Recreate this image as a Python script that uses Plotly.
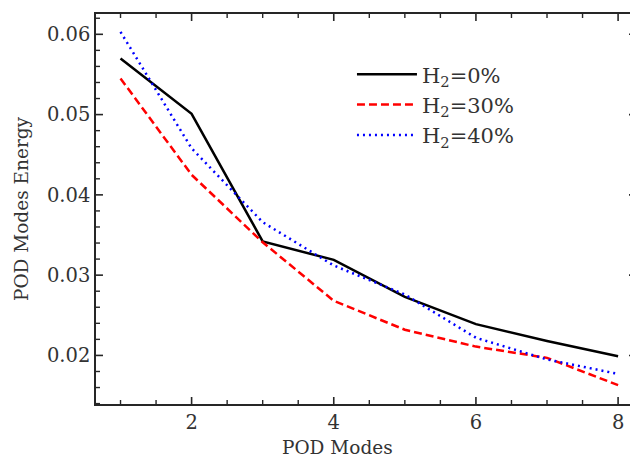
import plotly.graph_objects as go

modes = [1, 2, 3, 4, 5, 6, 7, 8]
h2_0 = [0.0570, 0.0501, 0.0342, 0.0319, 0.0273, 0.0239, 0.0218, 0.0199]
h2_30 = [0.0545, 0.0425, 0.0341, 0.0268, 0.0232, 0.0211, 0.0197, 0.0163]
h2_40 = [0.0603, 0.0458, 0.0366, 0.0312, 0.0276, 0.0222, 0.0195, 0.0177]
names = ["H<sub>2</sub>=0%", "H<sub>2</sub>=30%", "H<sub>2</sub>=40%"]
x_major = [2, 4, 6, 8]
x_minor = [1, 1.5, 2.5, 3, 3.5, 4.5, 5, 5.5, 6.5, 7, 7.5]
y_major = [0.02, 0.03, 0.04, 0.05, 0.06]
y_minor = [0.014, 0.016, 0.018, 0.022, 0.024, 0.026, 0.028, 0.032, 0.034, 0.036, 0.038,
           0.042, 0.044, 0.046, 0.048, 0.052, 0.054, 0.056, 0.058, 0.062]

FONT = "DejaVu Serif"
AX = "#262626"
TXT = "#333333"
PLOT_W, PLOT_H = 542, 390

fig = go.Figure()
fig.add_trace(go.Scatter(x=modes, y=h2_0, mode="lines", name=names[0], legendgroup="a",
                         line=dict(color="black", width=2.5)))
fig.add_trace(go.Scatter(x=modes, y=h2_30, mode="lines", name=names[1], legendgroup="b",
                         line=dict(color="#ff0000", width=2.5, dash="8px,4px")))
fig.add_trace(go.Scatter(x=modes, y=h2_40, mode="lines", name=names[2], legendgroup="c",
                         line=dict(color="#0000ff", width=2.5, dash="2px,4px")))

fig.update_xaxes(range=[0.655, 8.252], tickvals=x_major, ticktext=[str(v) for v in x_major],
                 showgrid=False, zeroline=False, showline=True, linecolor=AX, linewidth=1.5,
                 mirror=True, ticks="", tickfont=dict(family=FONT, size=19.5, color=TXT))
fig.update_yaxes(range=[0.01395, 0.06253], tickvals=y_major, ticktext=["%.2f" % v for v in y_major],
                 showgrid=False, zeroline=False, showline=True, linecolor=AX, linewidth=1.5,
                 mirror=True, ticks="", tickfont=dict(family=FONT, size=19.5, color=TXT),
                 title=dict(text="POD Modes Energy", font=dict(family=FONT, size=18.5, color=TXT), standoff=13))

# inward tick marks on all four sides, placed at the tick values through the axes
for vals, ln, w in ((x_major, 7, 1.6), (x_minor, 4, 1.4)):
    for v in vals:
        for base, sgn in ((0, 1), (1, -1)):
            fig.add_shape(type="line", xref="x", yref="y domain", x0=v, x1=v,
                          y0=base, y1=base + sgn * ln / PLOT_H, line=dict(color=AX, width=w))
for vals, ln, w in ((y_major, 7, 1.6), (y_minor, 4, 1.4)):
    for v in vals:
        for base, sgn in ((0, 1), (1, -1)):
            fig.add_shape(type="line", xref="x domain", yref="y", y0=v, y1=v,
                          x0=base, x1=base + sgn * ln / PLOT_W, line=dict(color=AX, width=w))

fig.add_annotation(text="POD Modes", xref="paper", yref="paper", x=(338 - 96) / PLOT_W, y=-(447 - 404) / PLOT_H,
                   xanchor="center", yanchor="middle", showarrow=False,
                   font=dict(family=FONT, size=18.5, color=TXT))

fig.update_layout(
    width=630, height=456,
    margin=dict(l=88, r=0, t=6, b=60),
    paper_bgcolor="white", plot_bgcolor="white",
    showlegend=True,
    legend=dict(x=0.474, y=0.897, xanchor="left", yanchor="top", bgcolor="rgba(0,0,0,0)",
                font=dict(family=FONT, size=21, color=TXT), tracegroupgap=0, itemwidth=60),
)

fig.write_html("out.html")
